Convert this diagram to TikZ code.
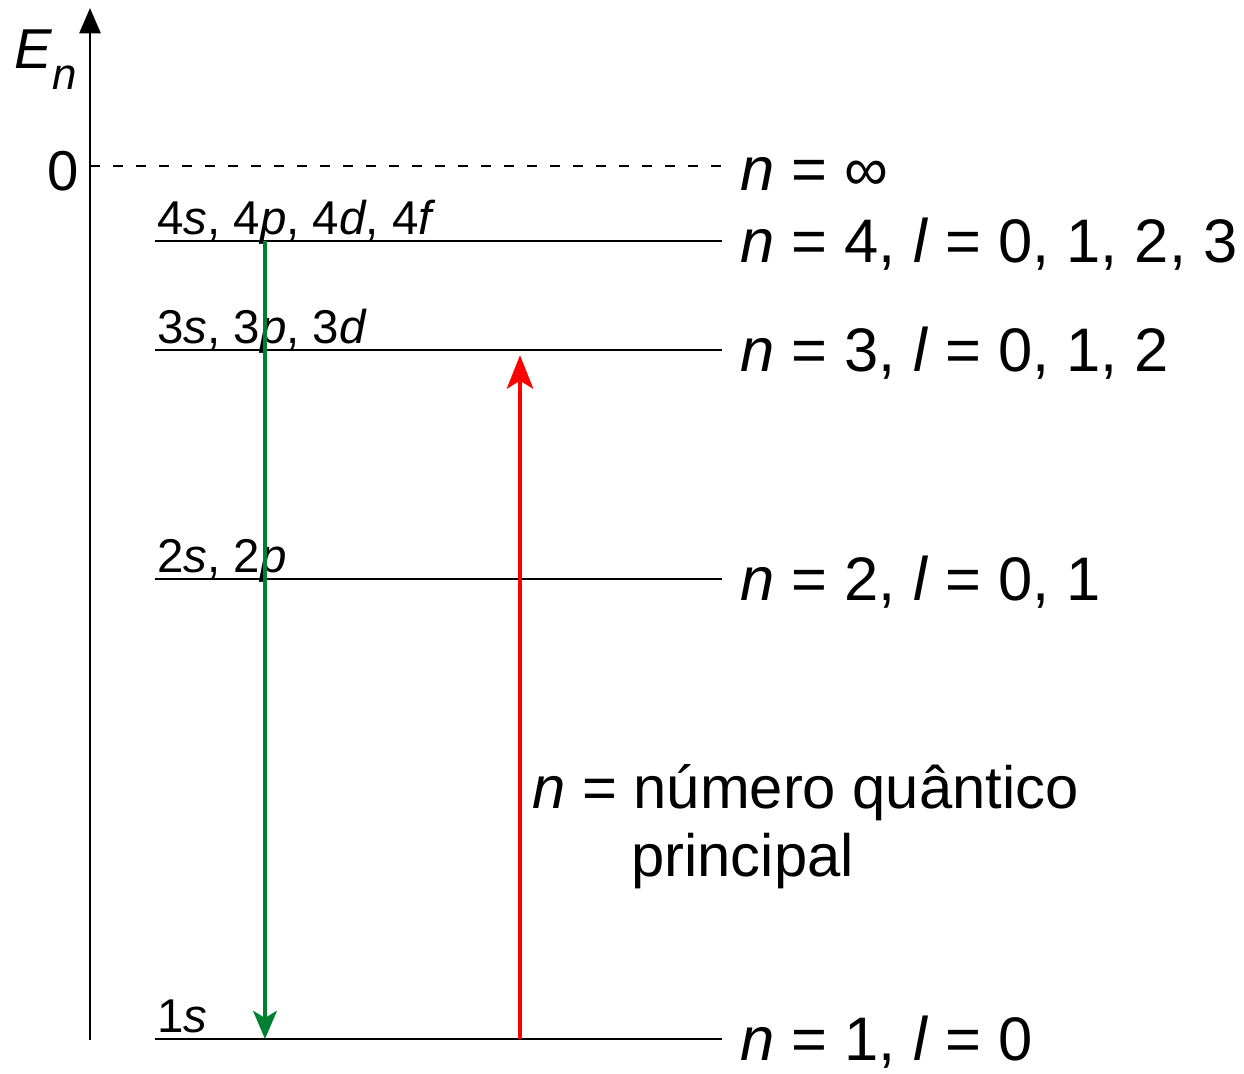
\documentclass[tikz,border=0pt]{standalone}
\usepackage{fontspec}
\setmainfont{Liberation Sans}
\usetikzlibrary{arrows.meta}

\definecolor{emitgreen}{RGB}{0,128,48}

\begin{document}
\begin{tikzpicture}[x=0.02cm,y=-0.02cm,
  level/.style={line width=1.6pt},
  lbl/.style={anchor=base west,inner sep=0pt,font=\fontsize{35}{42}\selectfont},
  orb/.style={anchor=base west,inner sep=0pt,font=\fontsize{27}{32}\selectfont}]
\useasboundingbox (0,0) rectangle (1244,1073);
% energy axis
\coordinate (ax0) at (90,1040);
\coordinate (ax1) at (90,8);
\draw[line width=1.7pt,-{Triangle[length=14.5pt,width=12pt]}] (ax0) -- (ax1);
\node[anchor=base west,inner sep=0pt,font=\fontsize{32}{38}\selectfont] (En) at (14,68)
  {\textit{E}\raisebox{-12pt}{\fontsize{25}{30}\selectfont\textit{n}}};
\node[anchor=base,inner sep=0pt,font=\fontsize{32}{38}\selectfont] (zero) at (63,190) {0};
% ionisation limit
\coordinate (inf) at (722,166);
\draw[line width=1.2pt,dash pattern=on 5.7pt off 7.4pt] (ax0 |- inf) -- (inf);
\node[lbl] (rinf) at (740,190) {\textit{n} = ∞};
% levels
\foreach \n/\y/\orb/\ls in {4/241/{4\textit{s}, 4\textit{p}, 4\textit{d}, 4\textit{f}}/{0, 1, 2, 3},
                           3/350/{3\textit{s}, 3\textit{p}, 3\textit{d}}/{0, 1, 2},
                           2/579/{2\textit{s}, 2\textit{p}}/{0, 1},
                           1/1039/{1\textit{s}}/{0}} {
  \coordinate (a\n) at (155,\y);
  \coordinate (b\n) at (722,\y);
  \draw[level] (a\n) -- (b\n);
  \node[orb] (o\n) at (157,\y-7) {\orb};
  \node[lbl] (r\n) at (740,\y+21) {\textit{n} = \n, \textit{l} = \ls};
}
% transitions
\coordinate (gx) at (265,0);
\coordinate (rx) at (520,0);
\draw[emitgreen,line width=2.2pt,-{Stealth[length=16pt,width=13.5pt,inset=4pt]}] (gx |- a4) -- (gx |- a1);
\draw[red,line width=2.2pt,-{Stealth[length=19pt,width=15pt,inset=4.5pt]}] (rx |- a1) -- ([yshift=-3pt]rx |- a3);
\node[lbl,font=\fontsize{34}{40}\selectfont] (qn) at (532,808) {\textit{n} = número quântico};
\node[lbl,font=\fontsize{34}{40}\selectfont] (qn2) at (631,876) {principal};
\end{tikzpicture}
\end{document}
